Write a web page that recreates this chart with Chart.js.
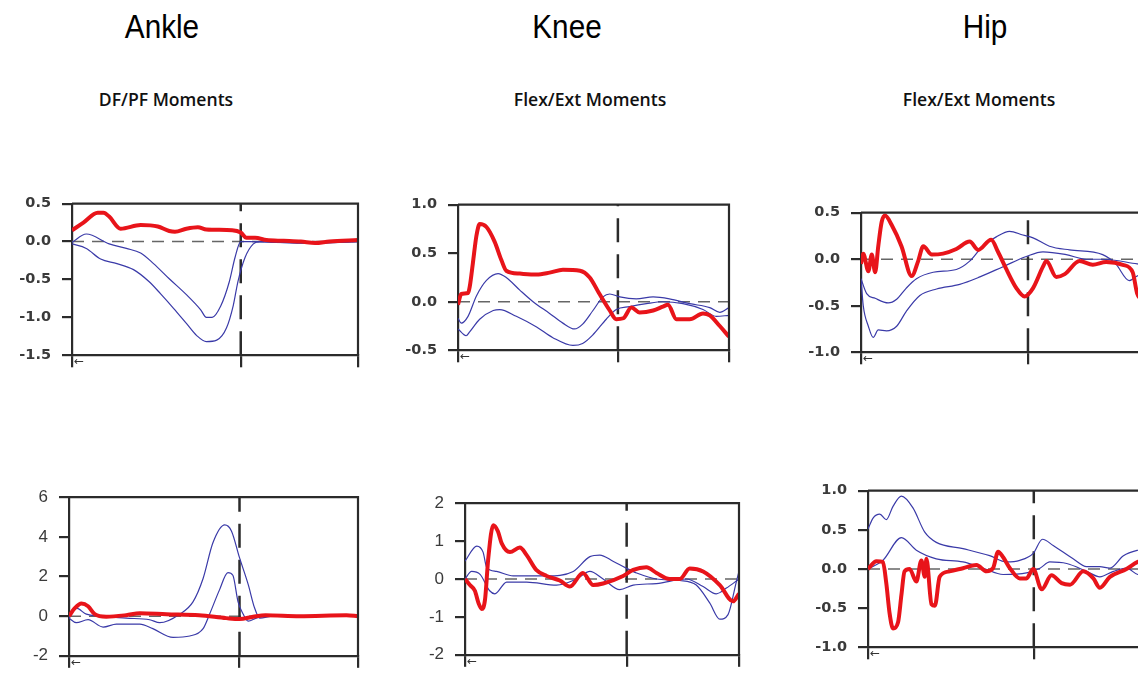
<!DOCTYPE html>
<html lang="en">
<head>
  <meta charset="UTF-8">
  <title>Ankle / Knee / Hip moments and powers</title>
  <script src="https://cdn.jsdelivr.net/npm/chart.js"></script>
  <style>
    body {
      margin: 0;
      width: 1138px;
      height: 679px;
      overflow: hidden;
      position: relative;
      background: #fff;
      font-family: "Liberation Sans", Arial, sans-serif;
    }
    .joint {
      position: absolute;
      top: 10px;
      font-size: 33px;
      line-height: 1;
      white-space: nowrap;
      transform: translateX(-50%) scaleX(0.9);
    }
    .sub {
      position: absolute;
      top: 90px;
      font-family: "Open Sans", sans-serif;
      font-weight: 600;
      font-size: 18.5px;
      line-height: 1;
      white-space: nowrap;
      transform: translateX(-50%) scaleX(0.95);
      color: #111;
    }
    .panel { position: absolute; }
  </style>
</head>
<body>
  <div class="joint" style="left:162px">Ankle</div>
  <div class="joint" style="left:567px">Knee</div>
  <div class="joint" style="left:985px">Hip</div>
  <div class="sub" style="left:166px">DF/PF Moments</div>
  <div class="sub" style="left:590px">Flex/Ext Moments</div>
  <div class="sub" style="left:979px">Flex/Ext Moments</div>

  <div class="panel"><canvas id="ankleTop"></canvas></div>
  <div class="panel"><canvas id="kneeTop"></canvas></div>
  <div class="panel"><canvas id="hipTop"></canvas></div>
  <div class="panel"><canvas id="ankleBottom"></canvas></div>
  <div class="panel"><canvas id="kneeBottom"></canvas></div>
  <div class="panel"><canvas id="hipBottom"></canvas></div>

  <script>
    // % gait cycle; toe-off marked with the dashed line
    const xTicks = [0, 59, 100];
    const toeOff = 59;

    // ---- top row: moments ----
    const ankleMomRed = [[0,0.15],[4,0.25],[9,0.38],[11,0.38],[13,0.33],[17,0.17],[24,0.22],[30,0.2],[34,0.14],[36,0.13],[40,0.17],[44,0.19],[47,0.16],[56,0.15],[59,0.12],[61,0.05],[64,0.05],[68,0.02],[74,0.01],[80,0],[85,-0.02],[90,0],[100,0.02]];
    const ankleMomHigh = [[0,-0.01],[5,0.1],[13,-0.03],[19,-0.09],[24,-0.15],[28.5,-0.29],[34,-0.49],[40,-0.7],[45,-0.9],[47,-1.0],[49,-1.0],[52,-0.85],[55,-0.53],[57,-0.21],[59,0],[62,0],[70,-0.01],[85,-0.02],[100,0]];
    const ankleMomLow = [[0,-0.03],[5,-0.09],[10,-0.23],[15.7,-0.29],[21.5,-0.37],[27,-0.53],[31,-0.69],[35.5,-0.88],[40,-1.08],[43.6,-1.24],[47,-1.32],[50.6,-1.3],[54,-1.14],[56.4,-0.84],[58,-0.53],[60.5,-0.21],[63.4,-0.03],[65.7,0],[80,-0.02],[100,0]];

    const kneeMomRed = [[0,-0.03],[1.2,0.08],[3.7,0.09],[4.3,0.15],[5.5,0.4],[6.8,0.68],[8,0.8],[10.5,0.77],[13.5,0.62],[16,0.43],[17.8,0.32],[22.8,0.29],[29,0.28],[33.8,0.3],[38.7,0.33],[45,0.32],[48.6,0.25],[52,0.09],[56,-0.09],[58.4,-0.18],[61,-0.17],[64,-0.06],[67,-0.11],[72,-0.09],[75.6,-0.05],[77.5,-0.03],[80.6,-0.18],[85.5,-0.18],[90.4,-0.12],[92.9,-0.14],[96.6,-0.25],[100,-0.36]];
    const kneeMomHigh = [[0,-0.17],[1.2,-0.22],[3.7,-0.15],[6.8,0.06],[10.5,0.22],[14.8,0.29],[17.8,0.25],[22.8,0.12],[27.7,0],[33.8,-0.12],[38.7,-0.22],[43,-0.28],[46,-0.23],[49.8,-0.09],[53.5,0.05],[56,0.08],[59.7,0.05],[65.8,0.03],[72,0.05],[78,0.03],[85.5,-0.02],[92.9,-0.06],[96.6,-0.11],[100,-0.06]];
    const kneeMomLow = [[0,-0.28],[3,-0.35],[4.3,-0.31],[8,-0.18],[13,-0.09],[15.4,-0.08],[21.5,-0.15],[29,-0.26],[35,-0.37],[42.4,-0.45],[46,-0.43],[49.8,-0.34],[54.7,-0.18],[58.4,-0.08],[63.3,-0.05],[69.5,-0.02],[75.6,0],[83,-0.02],[90.4,-0.08],[95.3,-0.15],[100,-0.14]];

    const hipMomRed = [[0,-0.05],[0.8,0.06],[2.6,-0.13],[3.8,0.05],[5,-0.14],[6.1,0.14],[7.3,0.4],[8.5,0.47],[10.8,0.37],[14.3,0.14],[17.9,-0.18],[20.2,-0.02],[22,0.14],[25,0.05],[29,0.06],[33.7,0.11],[38.4,0.19],[41.4,0.1],[46,0.21],[48.4,0.08],[51.4,-0.11],[54.9,-0.31],[57.8,-0.4],[60.8,-0.31],[64.3,-0.08],[65.5,-0.02],[69,-0.19],[72,-0.16],[77.2,-0.02],[81.9,-0.06],[86.6,-0.03],[92.5,-0.06],[96,-0.14],[97.6,-0.37],[100,-0.45]];
    const hipMomHigh = [[0,-0.21],[2,-0.37],[5,-0.42],[9.6,-0.47],[12.6,-0.43],[16,-0.31],[19.6,-0.21],[25.5,-0.14],[33.7,-0.11],[38.4,-0.02],[43,0.14],[47.8,0.24],[52.5,0.3],[57.2,0.26],[60.8,0.23],[66.6,0.14],[73.7,0.1],[85.4,0.05],[90,-0.05],[94.8,-0.23],[97.6,-0.18],[100,-0.15]];
    const hipMomLow = [[0,-0.21],[0.8,-0.5],[2.6,-0.72],[4.3,-0.84],[6.1,-0.76],[9,-0.77],[12.6,-0.72],[16,-0.56],[20.8,-0.39],[26.7,-0.32],[34.9,-0.27],[42,-0.19],[50.2,-0.08],[58.4,0.03],[64.3,0.08],[72.5,0.05],[79.6,0],[85.4,0],[97.6,-0.05],[100,-0.06]];

    // ---- bottom row: powers ----
    const anklePowRed = [[0,0],[2,0.4],[4.3,0.64],[6.6,0.5],[8.9,0.1],[12.9,-0.03],[19.8,0.05],[24.5,0.15],[33.7,0.1],[45,0.05],[54.4,-0.1],[59,-0.15],[63.7,-0.03],[68,0.05],[79.8,0],[96,0.05],[100,0]];
    const anklePowHigh = [[0,-0.1],[2.5,0.4],[6,0.1],[10.6,0],[19.8,-0.1],[27.9,-0.18],[31.4,-0.33],[38.3,0.1],[42.9,0.72],[46.4,1.9],[49.8,3.7],[53.9,4.6],[56.2,4.3],[59,2.95],[62,1.6],[64.2,0.42],[66,-0.1],[70.6,0],[100,0]];
    const anklePowLow = [[0,-0.1],[2.5,-0.33],[6.6,-0.18],[11.8,-0.55],[16.4,-0.4],[24.5,-0.4],[29,-0.63],[36,-1.07],[41.8,-1.0],[46.4,-0.63],[48.7,0.12],[52,1.3],[55,2.2],[56.7,2.06],[58.5,0.72],[60.2,0.12],[62,-0.25],[64.8,-0.1],[68,0],[100,0]];

    const kneePowRed = [[0,0],[1.8,-0.16],[3.6,-0.31],[4.9,-0.63],[6.1,-0.79],[7.3,-0.55],[8.5,0.55],[10.3,1.42],[12,1.26],[13.4,0.94],[16.4,0.71],[20,0.83],[22.5,0.63],[26,0.24],[29.8,0.08],[34.6,-0.04],[38.3,-0.2],[43,0.16],[46.8,-0.16],[50.4,-0.12],[57.7,0.08],[61.4,0.24],[66.2,0.31],[69.9,0.16],[74.7,0],[78.4,0],[82,0.28],[86.9,0.2],[93,-0.16],[97.8,-0.59],[100,-0.39]];
    const kneePowHigh = [[0,0.47],[4.3,0.87],[6.6,0.71],[7.9,0.31],[11.5,0.2],[17.6,0.08],[29.8,0.08],[39.5,0.2],[45.6,0.59],[49.2,0.63],[54,0.47],[59,0.28],[62.6,0.16],[69.9,0],[78.4,-0.04],[84.4,-0.16],[89.3,-0.63],[93,-1.06],[96,-0.94],[99,-0.08],[100,0.2]];
    const kneePowLow = [[0,0],[2.4,0.2],[5.5,0.12],[9,-0.31],[10.9,-0.39],[15.2,-0.08],[22.5,-0.08],[33.4,-0.16],[40.7,0],[45.6,0.2],[50.4,0],[56.5,-0.28],[61.4,-0.16],[69.9,-0.12],[80.8,0],[86.9,-0.2],[91.7,-0.39],[95.4,-0.24],[100,0]];

    const hipPowRed = [[0,0],[3,0.1],[5.3,0.09],[6.5,-0.18],[7.7,-0.57],[8.9,-0.76],[10.7,-0.68],[11.9,-0.33],[13,-0.03],[14.8,0],[17.2,-0.16],[19,0.11],[20.2,-0.1],[20.8,0.13],[22.6,-0.45],[23.8,-0.47],[25.5,-0.1],[29,-0.03],[33.8,0.01],[38.6,0.05],[42.2,-0.03],[44.5,0.01],[46.3,0.22],[48.1,0.15],[50.5,0.01],[54,-0.12],[56.4,-0.12],[58.8,0],[61.8,-0.26],[65.3,-0.08],[68.9,-0.18],[71.9,-0.2],[76.6,-0.03],[80.2,-0.12],[82.5,-0.24],[86.1,-0.1],[92,0],[96,0.09],[100,0.12]];
    const hipPowHigh = [[0,0.51],[1.8,0.65],[4.2,0.7],[6.5,0.63],[8.9,0.8],[11.9,0.93],[16,0.78],[20.2,0.47],[24.3,0.34],[33.8,0.26],[43.3,0.17],[49.3,0.09],[54,0.11],[58.8,0.2],[62.1,0.38],[65.9,0.3],[73,0.13],[77.8,0.03],[82.5,0.03],[86,0.01],[90.9,0.17],[96,0.24],[100,0.26]];
    const hipPowLow = [[0,0],[5.3,0.11],[11.9,0.4],[17.2,0.24],[24.3,0.13],[33.8,0.09],[41,0.01],[48.1,-0.07],[56.4,-0.05],[61.2,0.01],[64.7,0.09],[70.7,0.07],[77.8,-0.03],[82.5,-0.1],[87.3,-0.03],[92,0.01],[96,-0.07],[100,-0.08]];

    const RED = '#e8141a';
    const BLUE = '#3a3aa8';
    const AXIS = '#2b2b2b';

    const toXY = arr => arr.map(p => ({ x: p[0], y: p[1] }));

    // draws the top and right edges of the frame plus the small arrow under the origin
    const framePlugin = {
      id: 'frame',
      afterDraw(chart) {
        const a = chart.chartArea, ctx = chart.ctx;
        ctx.save();
        ctx.strokeStyle = AXIS;
        ctx.lineWidth = 2.2;
        ctx.beginPath();
        ctx.moveTo(a.left, a.top);
        ctx.lineTo(a.right, a.top);
        ctx.lineTo(a.right, a.bottom);
        ctx.stroke();
        ctx.fillStyle = '#333';
        ctx.font = '12px "DejaVu Sans"';
        ctx.textBaseline = 'top';
        ctx.fillText('\u2190', a.left + 2, a.bottom + 1);
        ctx.restore();
      }
    };

    function makePanel(id, box, yMin, yMax, yStep, decimals, tickFont, red, high, low) {
      const yW = 72, padTop = 10, padRight = 4, xH = 13;
      const canvas = document.getElementById(id);
      canvas.width = box.w + yW + padRight;
      canvas.height = box.h + padTop + xH;
      canvas.parentElement.style.left = (box.l - yW) + 'px';
      canvas.parentElement.style.top = (box.t - padTop) + 'px';

      new Chart(canvas, {
        type: 'line',
        data: {
          datasets: [
            { data: toXY(red), borderColor: RED, borderWidth: 4, order: 0, cubicInterpolationMode: 'monotone' },
            { data: toXY(high), borderColor: BLUE, borderWidth: 1.2, order: 1, cubicInterpolationMode: 'monotone' },
            { data: toXY(low), borderColor: BLUE, borderWidth: 1.2, order: 1, cubicInterpolationMode: 'monotone' },
            { data: [{ x: 0, y: 0 }, { x: 100, y: 0 }], borderColor: '#666', borderWidth: 1.5, borderDash: [12, 8], order: 3 },
            { data: [{ x: toeOff, y: yMin }, { x: toeOff, y: yMax }], borderColor: AXIS, borderWidth: 2.5, borderDash: [24, 12], order: 2 }
          ]
        },
        options: {
          responsive: false,
          animation: false,
          events: [],
          layout: { padding: { top: padTop, right: padRight, left: 0, bottom: 0 } },
          elements: { point: { radius: 0 }, line: { fill: false } },
          plugins: { legend: { display: false }, tooltip: { enabled: false } },
          scales: {
            x: {
              type: 'linear',
              min: 0,
              max: 100,
              afterBuildTicks: s => { s.ticks = xTicks.map(v => ({ value: v })); },
              afterFit: s => { s.height = xH; },
              ticks: { display: false },
              grid: { drawOnChartArea: false, drawTicks: true, tickLength: 12, color: AXIS, lineWidth: 2.2 },
              border: { display: true, color: AXIS, width: 2.2 }
            },
            y: {
              min: yMin,
              max: yMax,
              afterFit: s => { s.width = yW; },
              ticks: {
                stepSize: yStep,
                padding: 11,
                color: '#3a3a3a',
                font: tickFont,
                callback: v => v.toFixed(decimals)
              },
              grid: { drawOnChartArea: false, drawTicks: true, tickLength: 10, color: AXIS, lineWidth: 2.2 },
              border: { display: true, color: AXIS, width: 2.2 }
            }
          }
        },
        plugins: [framePlugin]
      });
    }

    const boldTicks = { family: '"DejaVu Sans", Verdana, sans-serif', size: 14.5, weight: 'bold' };
    const plainTicks = { family: '"Liberation Sans", Arial, sans-serif', size: 17, weight: 'normal' };

    makePanel('ankleTop',    { l: 72,  t: 194, w: 286, h: 168 }, -1.5, 0.5, 0.5, 1, boldTicks, ankleMomRed, ankleMomHigh, ankleMomLow);
    makePanel('kneeTop',     { l: 458, t: 195, w: 271, h: 162 }, -0.5, 1.0, 0.5, 1, boldTicks, kneeMomRed, kneeMomHigh, kneeMomLow);
    makePanel('hipTop',      { l: 861, t: 203, w: 283, h: 156 }, -1.0, 0.5, 0.5, 1, boldTicks, hipMomRed, hipMomHigh, hipMomLow);
    makePanel('ankleBottom', { l: 69,  t: 486, w: 289, h: 178 }, -2, 6, 2, 0, plainTicks, anklePowRed, anklePowHigh, anklePowLow);
    makePanel('kneeBottom',  { l: 465, t: 492, w: 274, h: 171 }, -2, 2, 1, 0, plainTicks, kneePowRed, kneePowHigh, kneePowLow);
    makePanel('hipBottom',   { l: 868, t: 481, w: 281, h: 173 }, -1.0, 1.0, 0.5, 1, boldTicks, hipPowRed, hipPowHigh, hipPowLow);
  </script>
</body>
</html>
